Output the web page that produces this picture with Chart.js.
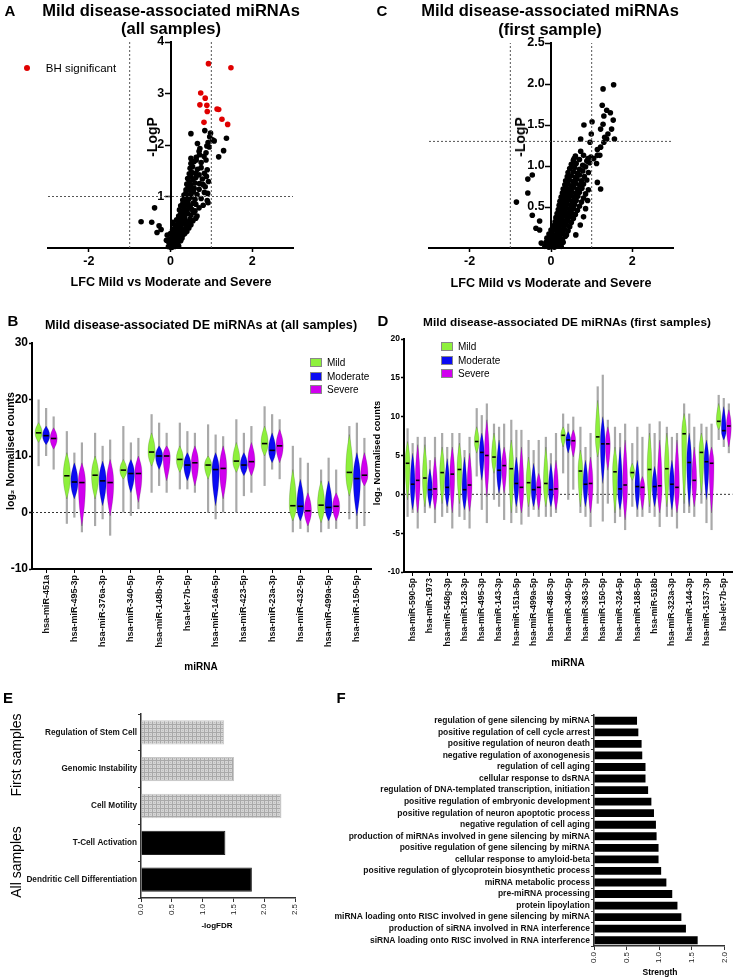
<!DOCTYPE html>
<html>
<head>
<meta charset="utf-8">
<script src="https://cdn.jsdelivr.net/npm/chart.js@4.4.1/dist/chart.umd.min.js"></script>
<style>
html,body{margin:0;padding:0;background:#fff;}
body{width:736px;height:979px;position:relative;overflow:hidden;font-family:'Liberation Sans',Arial,sans-serif;color:#000;}
canvas{position:absolute;}
.t{position:absolute;white-space:nowrap;}
.lg{position:absolute;font-size:10px;display:flex;align-items:center;white-space:nowrap;}
.lg i{display:inline-block;width:10px;height:7px;border:1px solid #888;margin-right:5px;}
</style>
</head>
<body>
<script>
// ---------------- DATA ----------------
// Panel A: volcano (all samples) [LFC, -logP]
const aBlack = [
[-0.05,0.03],[0.0,0.02],[0.02,0.06],[0.05,0.04],[0.08,0.08],[0.1,0.03],[0.12,0.07],[0.15,0.05],[-0.02,0.09],[0.03,0.01],[0.07,0.1],[0.18,0.08],[0.2,0.04],
[-0.1,0.15],[-0.05,0.12],[0.0,0.18],[0.05,0.14],[0.1,0.16],[0.15,0.12],[0.2,0.18],[0.25,0.14],[0.28,0.19],[0.03,0.11],[0.12,0.2],
[-0.08,0.25],[0.0,0.28],[0.06,0.22],[0.12,0.27],[0.18,0.24],[0.22,0.29],[0.3,0.25],[0.35,0.28],[0.1,0.3],
[0.05,0.35],[0.1,0.38],[0.15,0.33],[0.2,0.36],[0.25,0.39],[0.3,0.34],[0.36,0.37],[0.4,0.32],[0.45,0.39],
[0.1,0.45],[0.15,0.42],[0.2,0.48],[0.25,0.44],[0.3,0.47],[0.38,0.43],[0.45,0.49],[0.5,0.45],
[0.15,0.55],[0.2,0.52],[0.25,0.58],[0.3,0.54],[0.35,0.57],[0.4,0.51],[0.48,0.56],[0.55,0.53],[0.62,0.58],
[0.2,0.62],[0.25,0.66],[0.3,0.68],[0.35,0.63],[0.42,0.67],[0.5,0.64],[0.57,0.69],[0.65,0.62],
[0.22,0.74],[0.28,0.71],[0.33,0.77],[0.4,0.73],[0.45,0.79],[0.52,0.75],[0.6,0.72],[0.7,0.78],
[0.25,0.82],[0.3,0.86],[0.36,0.84],[0.42,0.88],[0.48,0.81],[0.55,0.87],[0.62,0.85],[0.8,0.83],[0.92,0.88],
[0.3,0.93],[0.35,0.97],[0.4,0.91],[0.45,0.95],[0.5,0.99],[0.6,0.94],[0.75,0.96],[0.9,0.92],
[0.33,1.03],[0.38,1.07],[0.42,1.02],[0.5,1.05],[0.56,1.09],[0.65,1.04],[0.83,1.08],[0.91,1.06],
[0.38,1.13],[0.44,1.18],[0.48,1.12],[0.58,1.16],[0.7,1.14],[0.85,1.19],
[0.4,1.24],[0.46,1.28],[0.5,1.22],[0.6,1.26],[0.71,1.25],[0.8,1.23],[0.93,1.29],
[0.42,1.35],[0.5,1.38],[0.55,1.32],[0.62,1.37],[0.78,1.34],[0.88,1.39],
[0.46,1.44],[0.52,1.47],[0.61,1.45],[0.7,1.42],[0.83,1.45],
[0.48,1.55],[0.54,1.58],[0.66,1.53],[0.75,1.56],[0.9,1.52],
[0.5,1.64],[0.58,1.68],[0.63,1.71],[0.75,1.66],[0.87,1.71],
[0.5,1.74],[0.63,1.76],[0.71,1.81],[0.82,1.78],[1.18,1.77],
[0.7,1.88],[0.87,1.85],[1.30,1.89],
[0.72,1.93],[0.89,1.98],[0.95,1.96],
[0.66,2.03],[0.92,2.05],[1.07,2.08],
[0.96,2.16],[1.37,2.13],[1.03,2.10],
[0.50,2.22],[0.84,2.28],[0.98,2.23],
[-0.72,0.51],[-0.46,0.50],[-0.39,0.78],[-0.28,0.43],[-0.23,0.36],[-0.33,0.30],[0.06,0.5]
];
const aRed = [[0.93,3.58],[1.48,3.50],[0.74,3.01],[0.85,2.91],[0.72,2.78],[0.89,2.77],[0.90,2.65],[1.14,2.70],[1.18,2.69],[0.82,2.44],[1.26,2.50],[1.40,2.40]];
const aThreshX = [-1, 1];
const aThreshY = 1;
const aXTicks = [-2, 0, 2];
const aYTicks = [1, 2, 3, 4];

// Panel C: volcano (first sample)
const cPts = [
[-0.15,0.02],[-0.1,0.04],[-0.05,0.01],[0,0.03],[0.02,0.02],[0.05,0.04],[0.08,0.01],[0.1,0.03],[0.12,0.02],[0.15,0.04],[0.2,0.03],[0.25,0.02],[-0.08,0.02],[0.03,0.05],
[-0.12,0.07],[-0.05,0.08],[0,0.06],[0.05,0.09],[0.1,0.07],[0.15,0.08],[0.2,0.06],[0.25,0.09],[0.3,0.07],[0.07,0.1],
[-0.1,0.12],[0,0.13],[0.05,0.11],[0.12,0.14],[0.18,0.12],[0.22,0.13],[0.28,0.11],[0.35,0.14],
[-0.05,0.17],[0.02,0.18],[0.1,0.16],[0.16,0.19],[0.22,0.17],[0.3,0.18],[0.38,0.16],[0.61,0.16],
[0,0.22],[0.08,0.23],[0.14,0.21],[0.2,0.24],[0.26,0.22],[0.33,0.23],[0.42,0.21],
[0.05,0.27],[0.12,0.28],[0.18,0.26],[0.25,0.29],[0.3,0.27],[0.38,0.28],[0.46,0.26],[0.72,0.28],
[0.1,0.32],[0.15,0.33],[0.22,0.31],[0.28,0.34],[0.35,0.32],[0.42,0.33],[0.5,0.31],
[0.12,0.37],[0.2,0.38],[0.26,0.36],[0.32,0.39],[0.4,0.37],[0.48,0.38],[0.55,0.36],[0.8,0.38],
[0.15,0.42],[0.22,0.43],[0.28,0.41],[0.35,0.44],[0.42,0.42],[0.5,0.43],[0.6,0.41],
[0.18,0.47],[0.24,0.48],[0.3,0.46],[0.38,0.49],[0.46,0.47],[0.55,0.48],[0.65,0.46],[0.85,0.48],
[0.2,0.52],[0.27,0.53],[0.33,0.51],[0.4,0.54],[0.5,0.52],[0.58,0.53],[0.7,0.51],
[0.22,0.57],[0.3,0.58],[0.36,0.56],[0.44,0.59],[0.52,0.57],[0.62,0.58],[0.75,0.56],[0.9,0.58],
[0.25,0.62],[0.32,0.63],[0.4,0.61],[0.48,0.64],[0.56,0.62],[0.66,0.63],[0.8,0.61],
[0.28,0.67],[0.35,0.68],[0.42,0.66],[0.5,0.69],[0.6,0.67],[0.7,0.68],[0.85,0.66],
[0.3,0.72],[0.38,0.73],[0.46,0.71],[0.55,0.74],[0.65,0.72],[0.76,0.73],[0.92,0.71],
[0.34,0.77],[0.42,0.78],[0.5,0.76],[0.6,0.79],[0.7,0.77],[0.8,0.78],[1.14,0.80],
[0.36,0.82],[0.45,0.83],[0.55,0.81],[0.64,0.84],[0.75,0.82],[0.88,0.83],[1.22,0.72],
[0.4,0.87],[0.5,0.88],[0.6,0.86],[0.7,0.89],[0.82,0.87],
[0.42,0.92],[0.55,0.93],[0.65,0.91],[0.78,0.94],[0.92,0.92],
[0.46,0.97],[0.58,0.98],[0.7,0.96],[0.85,0.99],
[0.5,1.02],[0.62,1.03],[0.78,1.01],[0.95,1.04],[1.12,1.03],
[0.55,1.07],[0.7,1.08],[0.88,1.06],[1.05,1.09],
[0.6,1.12],[0.8,1.13],[0.98,1.11],[1.14,1.13],
[0.57,1.09],[0.91,1.09],[1.22,1.23],
[1.54,1.99],[1.28,1.94],[1.26,1.74],[1.37,1.68],[1.46,1.65],[1.30,1.61],[1.53,1.56],[0.81,1.50],[1.01,1.54],[1.28,1.51],[1.22,1.45],[1.49,1.45],[1.40,1.39],[1.32,1.35],[1.37,1.33],[1.56,1.33],[0.99,1.39],[0.73,1.33],[0.96,1.29],[1.30,1.29],[0.73,1.18],[1.14,1.20],[1.20,1.13],
[-0.57,0.84],[-0.46,0.89],[-0.57,0.67],[-0.85,0.56],[-0.46,0.40],[-0.28,0.33],[-0.37,0.24],[-0.28,0.22],[-0.24,0.06]
];
const cThreshX = [-1, 1];
const cThreshY = 1.3;
const cXTicks = [-2, 0, 2];
const cYTicks = [0.5, 1.0, 1.5, 2.0, 2.5];

// Panel B: violins [min, lower body, median, upper body, max]
const bCats = ['hsa-miR-451a','hsa-miR-495-3p','hsa-miR-376a-3p','hsa-miR-340-5p','hsa-miR-148b-3p','hsa-let-7b-5p','hsa-miR-146a-5p','hsa-miR-423-5p','hsa-miR-23a-3p','hsa-miR-432-5p','hsa-miR-499a-5p','hsa-miR-150-5p'];
const bMild = [[8.2,12.4,14.1,15.9,20],[-2,2.4,6.5,10.6,14.4],[-2.4,2.4,6.6,10,14.1],[0,5.9,7.5,9.4,15.3],[3.5,8.2,10.7,14.1,17.4],[4.1,7.1,9.4,11.8,15.9],[0,5.9,8.4,10,15.6],[0,7.1,9.1,12.4,16.5],[4.7,10,12.2,15.3,18.8],[-3.5,-1.5,1.2,7.6,11.8],[-3.5,-1.8,1.3,5.6,7.6],[-1.2,2.9,7.1,13.8,15.3]];
const bModerate = [[10,12,13.6,15.3,18.5],[-0.9,2.4,5.4,8.8,10.6],[-1.2,1.2,5.6,9.1,11.8],[-0.6,3.5,6.9,9.4,12.4],[4.7,7.6,10,11.8,15.9],[4.1,5.6,8.4,10.6,14.4],[-1.2,1.2,7.6,10.6,13.8],[2.9,6.5,8.4,10.6,14.1],[7.6,8.8,11,14.1,17.4],[-2.9,-1.5,1.1,5.9,9.7],[-2.9,-1.5,0.9,5.6,9.7],[-2.9,-0.6,6,10.6,15.9]];
const bSevere = [[7.6,11.2,13.1,15,17],[-3.5,-2.4,5.3,8.8,12.4],[-4.1,-0.6,5.3,9.4,12.9],[0.6,1.8,6.9,10,13.2],[3.5,5.6,10,11.8,14.1],[3.5,4.7,8.8,11.8,14.1],[0,2.4,7.8,11.8,13.5],[3.5,6.5,9,12.4,15.3],[5.9,8.8,11.8,14.7,16.5],[-3.5,-2.4,0.3,3.5,8.8],[-2.9,-1.5,1.1,3.5,7.6],[-2.4,4.7,6.6,10.6,13.2]];

// Panel D
const dCats = ['hsa-miR-590-5p','hsa-miR-1973','hsa-miR-548g-3p','hsa-miR-128-3p','hsa-miR-495-3p','hsa-miR-143-3p','hsa-miR-151a-5p','hsa-miR-499a-5p','hsa-miR-485-3p','hsa-miR-340-5p','hsa-miR-363-3p','hsa-miR-150-5p','hsa-miR-324-5p','hsa-miR-188-5p','hsa-miR-518b','hsa-miR-323a-3p','hsa-miR-144-3p','hsa-miR-1537-3p','hsa-let-7b-5p'];
const dMild = [[-2.9,-0.7,4.0,6.8,8.5],[-2.4,-1.6,2.1,6.4,7.4],[-2.9,-1.2,2.8,6.1,7.9],[-2.9,-1.2,3.2,6.6,7.9],[2.3,5.3,6.8,8.7,11.1],[-0.7,2.7,4.8,7.9,9.1],[-3.7,-2.4,3.3,7.0,9.6],[-2.9,-1.6,1.5,4.8,7.0],[-2.9,-1.6,1.4,6.1,7.4],[2.7,6.1,7.6,8.7,10.4],[-2.4,-1.6,3.0,5.7,8.7],[-1.2,4.8,7.4,12.1,13.9],[-3.7,-2.4,2.9,6.1,8.7],[-1.6,1.8,2.8,4.0,6.6],[-2.4,-1.6,3.2,7.9,9.1],[-2.9,-1.6,3.3,7.9,8.7],[-2.4,-1.2,7.8,10.4,11.7],[-1.2,0.1,5.4,7.9,9.1],[7.0,8.3,9.4,11.7,12.8]];
const dModerate = [[-2.4,-2.0,1.3,5.3,6.6],[-1.8,-1.6,0.6,3.3,4.4],[-2.4,-1.6,0.9,4.6,6.1],[-3.3,-2.0,0.6,4.8,5.7],[-2.0,1.8,5.4,7.9,10.2],[-1.6,0.1,3.1,7.0,8.7],[-2.4,-1.6,1.4,4.8,8.3],[-2.0,-1.6,0.6,4.0,5.7],[-2.9,-1.6,0.6,4.0,5.3],[-0.7,5.3,7.0,8.1,9.1],[-2.9,-1.6,1.3,4.4,6.1],[-3.5,1.4,6.5,10.0,15.4],[-2.9,-2.0,0.7,6.1,7.9],[-2.9,-2.0,1.0,4.4,8.7],[-2.9,-1.6,1.0,3.6,7.9],[-2.9,-2.0,1.3,4.4,7.4],[-2.4,-1.6,4.1,7.9,10.4],[-3.7,-0.7,4.2,7.0,8.7],[6.1,7.0,8.2,11.3,12.4]];
const dSevere = [[-4.4,-2.4,1.8,6.4,7.4],[-3.7,-2.0,0.7,4.8,7.4],[-4.4,-2.4,2.6,6.1,7.9],[-4.4,-2.2,1.2,5.3,7.4],[-3.7,-0.3,5.0,9.6,11.7],[-3.3,0.1,3.7,6.1,9.1],[-3.9,-2.4,0.9,6.1,8.3],[-2.9,-2.0,0.9,2.7,7.0],[-2.4,-2.0,0.7,4.4,7.9],[0.6,4.8,6.9,8.3,10.0],[-4.2,-2.4,1.4,4.8,7.9],[-1.2,3.1,6.5,8.7,9.6],[-4.6,-3.3,1.2,7.0,9.1],[-2.9,-2.0,0.9,2.3,7.4],[-4.2,-2.4,1.1,7.0,9.4],[-4.4,-2.4,0.9,7.0,7.9],[-2.9,-1.6,1.8,6.1,8.7],[-4.6,-2.4,4.0,6.1,9.1],[5.3,6.1,8.8,10.9,11.7]];

// Panel E
const eCats = ['Regulation of Stem Cell','Genomic Instability','Cell Motility','T-Cell Activation','Dendritic Cell Differentiation'];
const eGroups = ['First','First','First','All','All'];
const eValues = [1.35, 1.51, 2.28, 1.37, 1.80];

// Panel F
const fCats = ['regulation of gene silencing by miRNA','positive regulation of cell cycle arrest','positive regulation of neuron death','negative regulation of axonogenesis','regulation of cell aging','cellular response to dsRNA','regulation of DNA-templated transcription, initiation','positive regulation of embryonic development','positive regulation of neuron apoptotic process','negative regulation of cell aging','production of miRNAs involved in gene silencing by miRNA','positive regulation of gene silencing by miRNA','cellular response to amyloid-beta','positive regulation of glycoprotein biosynthetic process','miRNA metabolic process','pre-miRNA processing','protein lipoylation','miRNA loading onto RISC involved in gene silencing by miRNA','production of siRNA involved in RNA interference','siRNA loading onto RISC involved in RNA interference'];
const fValues = [0.66,0.68,0.73,0.74,0.79,0.79,0.83,0.88,0.92,0.95,0.96,0.99,0.99,1.03,1.11,1.20,1.28,1.34,1.41,1.59];

// ---------------- STYLE ----------------
const FONT = "'Liberation Sans', Arial, sans-serif";
Chart.defaults.font.family = FONT;
Chart.defaults.color = '#000';
Chart.defaults.animation = false;
Chart.defaults.plugins.legend.display = false;
Chart.defaults.plugins.tooltip.enabled = false;
const colMild = '#8ef03c', colMod = '#0b0bf2', colSev = '#d000ee';

function mkCanvas(x, y, w, h) {
  const c = document.createElement('canvas');
  c.width = w; c.height = h;
  c.style.left = x + 'px'; c.style.top = y + 'px';
  c.style.width = w + 'px'; c.style.height = h + 'px';
  document.body.appendChild(c);
  return c;
}
function txt(s, x, y, css, rot) {
  const d = document.createElement('div');
  d.className = 't';
  d.textContent = s;
  d.style.left = x + 'px'; d.style.top = y + 'px';
  d.style.transform = 'translate(-50%,-50%)' + (rot ? ' rotate(' + rot + 'deg)' : '');
  d.style.cssText += ';' + css;
  document.body.appendChild(d);
}
function legend(x, y, items) {
  items.forEach((it, i) => {
    const d = document.createElement('div');
    d.className = 'lg';
    d.style.left = x + 'px'; d.style.top = (y + i * 13.5 - 6) + 'px';
    d.innerHTML = '<i style="background:' + it[1] + '"></i>';
    d.appendChild(document.createTextNode(it[0]));
    document.body.appendChild(d);
  });
}

// ---------------- VOLCANO ----------------
function volcano(canvas, pad, pts, red, threshX, threshY, xTicks, yTicks, yMax, yFmt) {
  const ds = [];
  threshX.forEach(v => ds.push({type:'line', data:[{x:v,y:0},{x:v,y:yMax}], borderColor:'#555', borderWidth:1, borderDash:[2,2], pointRadius:0}));
  ds.push({type:'line', data:[{x:-3,y:threshY},{x:3,y:threshY}], borderColor:'#555', borderWidth:1, borderDash:[2,2], pointRadius:0});
  ds.push({data: pts.map(p => ({x:p[0], y:p[1]})), backgroundColor:'#000', borderWidth:0, pointRadius:2.8, clip:false});
  if (red) ds.push({data: red.map(p => ({x:p[0], y:p[1]})), backgroundColor:'#e00000', borderWidth:0, pointRadius:2.8, clip:false});
  return new Chart(canvas, {
    type:'scatter',
    data:{datasets:ds},
    options:{
      responsive:false,
      layout:{padding:pad},
      scales:{
        x:{type:'linear', position:'bottom', min:-3, max:3,
           afterBuildTicks: s => { s.ticks = xTicks.map(v => ({value:v})); },
           afterFit: s => { s.height = 52; },
           grid:{drawOnChartArea:false, tickLength:4, color:'#000', tickWidth:1.5},
           border:{color:'#000', width:2},
           ticks:{font:{size:12.5, weight:'bold'}, color:'#000', padding:2}},
        y:{type:'linear', position:{x:0}, min:0, max:yMax,
           afterBuildTicks: s => { s.ticks = yTicks.map(v => ({value:v})); },
           afterFit: s => { s.width = 0; },
           grid:{drawOnChartArea:false, tickLength:5, color:'#000', tickWidth:1.5},
           border:{color:'#000', width:2},
           ticks:{font:{size:12.5, weight:'bold'}, color:'#000', padding:2, callback: v => yFmt(v) + '\u2002'}}
      }
    }
  });
}

// ---------------- VIOLIN PLUGIN ----------------
const violinPlugin = {
  id:'violin',
  beforeDatasetsDraw(chart) {
    const {ctx, chartArea:a} = chart, ys = chart.scales.y;
    const p = ys.getPixelForValue(0);
    ctx.save();
    ctx.strokeStyle = '#333'; ctx.lineWidth = 1; ctx.setLineDash([2,2]);
    ctx.beginPath(); ctx.moveTo(a.left, p); ctx.lineTo(a.right, p); ctx.stroke();
    ctx.restore();
  },
  afterDatasetsDraw(chart) {
    const ctx = chart.ctx, ys = chart.scales.y;
    chart.data.datasets.forEach((ds, di) => {
      if (!ds.stats) return;
      const meta = chart.getDatasetMeta(di);
      meta.data.forEach((el, i) => {
        const s = ds.stats[i];
        const x = el.x, hw = el.width / 2;
        const [pMin, pLo, pMed, pHi, pMax] = s.map(v => ys.getPixelForValue(v));
        ctx.save();
        ctx.strokeStyle = 'rgba(140,140,140,0.75)'; ctx.lineWidth = 2.2;
        ctx.beginPath(); ctx.moveTo(x, pMax); ctx.lineTo(x, pMin); ctx.stroke();
        ctx.fillStyle = ds.violinColor;
        const u = pMed - pHi, d = pLo - pMed;
        ctx.beginPath();
        ctx.moveTo(x, pHi);
        ctx.bezierCurveTo(x + hw * 0.45, pHi + u * 0.25, x + hw, pMed - u * 0.45, x + hw, pMed);
        ctx.bezierCurveTo(x + hw, pMed + d * 0.45, x + hw * 0.45, pLo - d * 0.25, x, pLo);
        ctx.bezierCurveTo(x - hw * 0.45, pLo - d * 0.25, x - hw, pMed + d * 0.45, x - hw, pMed);
        ctx.bezierCurveTo(x - hw, pMed - u * 0.45, x - hw * 0.45, pHi + u * 0.25, x, pHi);
        ctx.fill();
        ctx.strokeStyle = 'rgba(0,0,0,0.3)'; ctx.lineWidth = 0.5; ctx.stroke();
        ctx.strokeStyle = '#000'; ctx.lineWidth = 1.6;
        ctx.beginPath(); ctx.moveTo(x - hw * 0.75, pMed); ctx.lineTo(x + hw * 0.75, pMed); ctx.stroke();
        ctx.restore();
      });
    });
  }
};

function violinChart(canvas, pad, cats, series, yMin, yMax, yStep, yW, xH, tickFont, catFont, catPct) {
  return new Chart(canvas, {
    type:'bar',
    data:{labels:cats, datasets: series.map(s => ({
      label:s[0], data:s[1].map(v => [v[0], v[4]]), stats:s[1], violinColor:s[2],
      backgroundColor:'rgba(0,0,0,0)', borderWidth:0, categoryPercentage:catPct, barPercentage:0.95
    }))},
    options:{
      responsive:false,
      layout:{padding:pad},
      scales:{
        x:{afterFit: s => { s.height = xH; },
           grid:{drawOnChartArea:false, offset:false, tickLength:4, color:'#000', tickWidth:1},
           border:{color:'#000', width:2},
           ticks:{minRotation:90, maxRotation:90, autoSkip:false, font:{size:catFont, weight:'bold'}, color:'#111', padding:2}},
        y:{min:yMin, max:yMax,
           afterFit: s => { s.width = yW; },
           grid:{drawOnChartArea:false, tickLength:3, color:'#000', tickWidth:1.5},
           border:{color:'#000', width:2},
           ticks:{stepSize:yStep, font:{size:tickFont, weight:'bold'}, color:'#000', padding:1}}
      }
    },
    plugins:[violinPlugin]
  });
}

// ---------------- BUILD ----------------
// A
volcano(mkCanvas(0, 0, 368, 300), {left:48, right:75, top:42, bottom:0}, aBlack, aRed, aThreshX, aThreshY, aXTicks, aYTicks, 4, v => String(v));
// C
volcano(mkCanvas(368, 0, 368, 300), {left:61, right:63, top:43, bottom:0}, cPts, null, cThreshX, cThreshY, cXTicks, cYTicks, 2.5, v => v.toFixed(1));

// B
violinChart(mkCanvas(0, 300, 375, 380), {left:0, right:4, top:43, bottom:0}, bCats,
  [['Mild', bMild, colMild], ['Moderate', bModerate, colMod], ['Severe', bSevere, colSev]],
  -10, 30, 10, 32, 111, 12, 9, 0.8);
// D
violinChart(mkCanvas(368, 300, 368, 380), {left:0, right:1, top:39, bottom:0}, dCats,
  [['Mild', dMild, colMild], ['Moderate', dModerate, colMod], ['Severe', dSevere, colSev]],
  -10, 20, 5, 36, 108, 8.5, 8.5, 0.88);

// E pattern
const pc = document.createElement('canvas'); pc.width = 4; pc.height = 4;
const pctx = pc.getContext('2d');
pctx.fillStyle = '#d4d4d4'; pctx.fillRect(0, 0, 4, 4);
pctx.fillStyle = '#a9a9a9'; pctx.fillRect(0, 0, 1, 4); pctx.fillRect(0, 0, 4, 1);
pctx.fillStyle = '#bdbdbd'; pctx.fillRect(2, 2, 1, 1);
const greyPattern = pctx.createPattern(pc, 'repeat');

new Chart(mkCanvas(0, 680, 320, 299), {
  type:'bar',
  data:{labels:eCats, datasets:[{data:eValues,
    backgroundColor: c => eGroups[c.dataIndex] === 'First' ? greyPattern : '#000',
    borderColor: c => eGroups[c.dataIndex] === 'First' ? '#c8c8c8' : '#222',
    borderWidth:1, barPercentage:0.66, categoryPercentage:1}]},
  options:{
    responsive:false, indexAxis:'y',
    layout:{padding:{left:0, right:25, top:34, bottom:0}},
    scales:{
      x:{min:0, max:2.5, afterFit: s => { s.height = 81; },
         grid:{drawOnChartArea:false, tickLength:4, color:'#333'},
         border:{color:'#333', width:1.5},
         ticks:{stepSize:0.5, minRotation:90, maxRotation:90, autoSkip:false, font:{size:8}, color:'#222', padding:2, callback: v => v.toFixed(1)}},
      y:{afterFit: s => { s.width = 141; },
         grid:{drawOnChartArea:false, tickLength:3, color:'#333'},
         border:{color:'#333', width:1.5},
         ticks:{autoSkip:false, font:{size:8.2, weight:'bold'}, color:'#111', padding:1}}
    }
  }
});

// F
new Chart(mkCanvas(320, 680, 416, 299), {
  type:'bar',
  data:{labels:fCats, datasets:[{data:fValues, backgroundColor:'#000', borderWidth:0, barPercentage:0.68, categoryPercentage:1}]},
  options:{
    responsive:false, indexAxis:'y',
    layout:{padding:{left:0, right:10, top:35, bottom:0}},
    scales:{
      x:{min:0, max:2, afterFit: s => { s.height = 33; },
         grid:{drawOnChartArea:false, tickLength:4, color:'#333'},
         border:{color:'#333', width:1.5},
         ticks:{stepSize:0.5, minRotation:90, maxRotation:90, autoSkip:false, font:{size:8}, color:'#222', padding:2, callback: v => v.toFixed(1)}},
      y:{afterFit: s => { s.width = 274; },
         grid:{drawOnChartArea:false, tickLength:3, color:'#333'},
         border:{color:'#333', width:1.5},
         ticks:{autoSkip:false, font:{size:8.5, weight:'bold'}, color:'#111', padding:1}}
    }
  }
});

// ---------------- TEXT ----------------
const B = 'font-weight:bold;';
txt('A', 10, 10, B + 'font-size:15px;');
txt('Mild disease-associated miRNAs', 171, 10, B + 'font-size:16.5px;');
txt('(all samples)', 171, 28, B + 'font-size:16.5px;');
txt('-LogP', 152, 137, B + 'font-size:14px;', -90);
txt('LFC Mild vs Moderate and Severe', 171, 282, B + 'font-size:12.6px;');
(function(){ const d=document.createElement('div'); d.style.cssText='position:absolute;left:24px;top:65px;width:6px;height:6px;border-radius:50%;background:#e00000;'; document.body.appendChild(d); })();
txt('BH significant', 81, 68, 'font-size:11.5px;');

txt('C', 382, 10, B + 'font-size:15px;');
txt('Mild disease-associated miRNAs', 550, 10, B + 'font-size:16.5px;');
txt('(first sample)', 550, 29, B + 'font-size:16.5px;');
txt('-LogP', 520, 137, B + 'font-size:14px;', -90);
txt('LFC Mild vs Moderate and Severe', 551, 283, B + 'font-size:12.6px;');

txt('B', 13, 320, B + 'font-size:15px;');
txt('Mild disease-associated DE miRNAs at (all samples)', 201, 325, B + 'font-size:12.6px;');
txt('log₂ Normalised counts', 10, 451, B + 'font-size:10.5px;', -90);
txt('miRNA', 201, 666, B + 'font-size:10px;');
legend(310, 363, [['Mild', colMild], ['Moderate', colMod], ['Severe', colSev]]);

txt('D', 383, 320, B + 'font-size:15px;');
txt('Mild disease-associated DE miRNAs (first samples)', 567, 322, B + 'font-size:11.8px;');
txt('log₂ Normalised counts', 377, 453, B + 'font-size:9.3px;', -90);
txt('miRNA', 568, 662, B + 'font-size:10px;');
legend(441, 347, [['Mild', colMild], ['Moderate', colMod], ['Severe', colSev]]);

txt('E', 8, 697, B + 'font-size:15px;');
txt('First samples', 16, 755, 'font-size:14px;', -90);
txt('All samples', 16, 862, 'font-size:14px;', -90);
txt('-logFDR', 217, 925, B + 'font-size:8px;');

txt('F', 341, 697, B + 'font-size:15px;');
txt('Strength', 660, 972, B + 'font-size:8.5px;');
</script>
</body>
</html>
